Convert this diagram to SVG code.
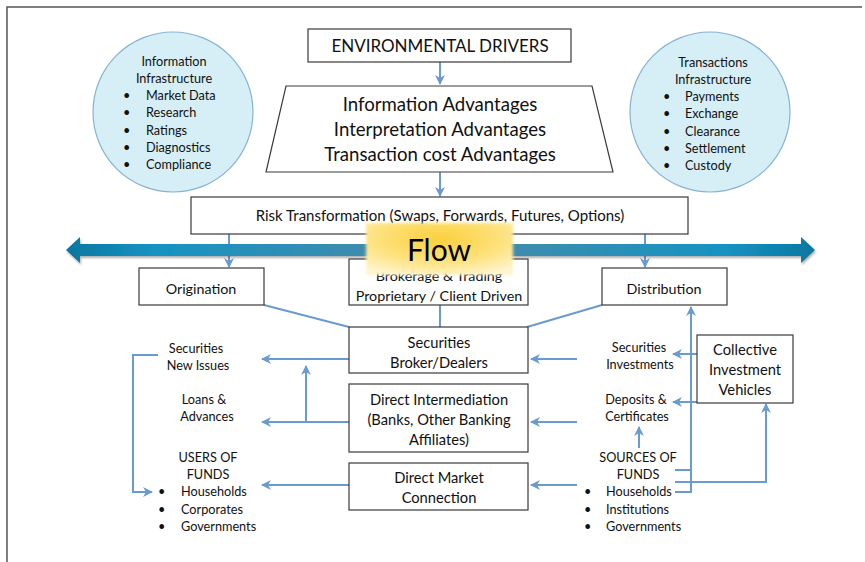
<svg xmlns="http://www.w3.org/2000/svg" width="865" height="562" viewBox="0 0 865 562">
  <style>
    text { font-family: Lato, "Open Sans", "Liberation Sans", sans-serif; fill: #111111; }
    .box { fill: #ffffff; stroke: #3a3a3a; stroke-width: 1.2; }
    .circ { fill: #d6eff6; stroke: #86b2d3; stroke-width: 1.2; }
    .c { text-anchor: middle; }
    .s125 { font-size: 12.7px; }
    .s14 { font-size: 14.3px; }
    .s145 { font-size: 14.7px; }
    .s18 { font-size: 17px; }
    .s19 { font-size: 18.6px; }
    .conn { fill: none; stroke: #6a9bd0; stroke-width: 2; }
    .arr { marker-end: url(#head); }
  </style>
  <defs>
    <marker id="head" viewBox="0 0 10 10" refX="9" refY="5" markerWidth="5" markerHeight="5" orient="auto" markerUnits="strokeWidth">
      <path d="M0,0 L10,5 L0,10 L3,5 Z" fill="#6a9bd0"/>
    </marker>
    <linearGradient id="flowGrad" x1="66" y1="0" x2="815" y2="0" gradientUnits="userSpaceOnUse">
      <stop offset="0" stop-color="#0a77a0"/>
      <stop offset="0.12" stop-color="#1693c2"/>
      <stop offset="0.4" stop-color="#3d8cae"/>
      <stop offset="0.6" stop-color="#3d8cae"/>
      <stop offset="0.88" stop-color="#1693c2"/>
      <stop offset="1" stop-color="#0a77a0"/>
    </linearGradient>
    <radialGradient id="labelGrad" cx="0.5" cy="0.3" r="0.75">
      <stop offset="0" stop-color="#fbd03c"/>
      <stop offset="0.6" stop-color="#fde27f"/>
      <stop offset="1" stop-color="#fff4cc"/>
    </radialGradient>
    <filter id="soft" x="-10%" y="-20%" width="120%" height="140%">
      <feGaussianBlur stdDeviation="1.4"/>
    </filter>
    <filter id="shadow" x="-5%" y="-30%" width="110%" height="160%">
      <feDropShadow dx="1" dy="2" stdDeviation="1.2" flood-color="#555" flood-opacity="0.45"/>
    </filter>
  </defs>

  <!-- frame -->
  <path d="M7,562 V7 H862" fill="none" stroke="#555" stroke-width="1.5"/>

  <!-- infrastructure circles -->
  <g id="info-infra">
    <circle class="circ" cx="173" cy="112" r="80"/>
    <text class="s125 c" x="174" y="66">Information</text>
    <text class="s125 c" x="174" y="83">Infrastructure</text>
    <g class="s125">
      <text x="123" y="100">•</text><text x="146" y="100">Market Data</text>
      <text x="123" y="117">•</text><text x="146" y="117">Research</text>
      <text x="123" y="135">•</text><text x="146" y="135">Ratings</text>
      <text x="123" y="152">•</text><text x="146" y="152">Diagnostics</text>
      <text x="123" y="169">•</text><text x="146" y="169">Compliance</text>
    </g>
  </g>
  <g id="trans-infra">
    <circle class="circ" cx="710" cy="112" r="80"/>
    <text class="s125 c" x="713" y="67">Transactions</text>
    <text class="s125 c" x="713" y="84">Infrastructure</text>
    <g class="s125">
      <text x="663" y="101">•</text><text x="685" y="101">Payments</text>
      <text x="663" y="118">•</text><text x="685" y="118">Exchange</text>
      <text x="663" y="136">•</text><text x="685" y="136">Clearance</text>
      <text x="663" y="153">•</text><text x="685" y="153">Settlement</text>
      <text x="663" y="170">•</text><text x="685" y="170">Custody</text>
    </g>
  </g>

  <!-- connectors -->
  <g id="connectors">
    <path class="conn arr" d="M440,62 V84"/>
    <path class="conn arr" d="M440,172 V196"/>
    <path class="conn arr" d="M229,234 V267"/>
    <path class="conn arr" d="M645,234 V267"/>
    <path class="conn" d="M264,305 L349,327"/>
    <path class="conn" d="M440,305 V327"/>
    <path class="conn" d="M602,305 L527,327"/>
    <!-- toward users of funds -->
    <path class="conn arr" d="M349,359 H262"/>
    <path class="conn arr" d="M349,422 H262"/>
    <path class="conn arr" d="M306,422 V366"/>
    <path class="conn arr" d="M349,485 H262"/>
    <path class="conn arr" d="M158,355 H133 V492 H152"/>
    <!-- from sources of funds -->
    <path class="conn arr" d="M577,359 H531"/>
    <path class="conn arr" d="M577,422 H531"/>
    <path class="conn arr" d="M577,485 H531"/>
    <path class="conn arr" d="M639,448 V427"/>
    <path class="conn arr" d="M697,354 H673"/>
    <path class="conn arr" d="M697,402 H673"/>
    <path class="conn arr" d="M675,492 H691 V307"/>
    <path class="conn" d="M675,470 H691"/>
    <path class="conn arr" d="M675,482 H766 V404"/>
  </g>

  <!-- flow arrow -->
  <g id="flow" filter="url(#shadow)">
    <path d="M66,250 L80,237 L80,244 L801,244 L801,237 L815,250 L801,263 L801,256 L80,256 L80,263 Z" fill="url(#flowGrad)"/>
  </g>

  <g id="env-drivers">
    <rect class="box" x="308" y="29" width="263" height="33"/>
    <text class="s18 c" x="440" y="52">ENVIRONMENTAL DRIVERS</text>
  </g>

  <g id="advantages">
    <path class="box" d="M286,86 H592 L613,172 H266 Z"/>
    <text class="s19 c" x="440" y="111">Information Advantages</text>
    <text class="s19 c" x="440" y="136">Interpretation Advantages</text>
    <text class="s19 c" x="440" y="161">Transaction cost Advantages</text>
  </g>

  <g id="risk">
    <rect class="box" x="191" y="197" width="497" height="37"/>
    <text class="c" x="440" y="221" style="font-size:15px">Risk Transformation (Swaps, Forwards, Futures, Options)</text>
  </g>

  <g id="origination">
    <rect class="box" x="139" y="268" width="125" height="37"/>
    <text class="s14 c" x="201" y="294">Origination</text>
  </g>

  <g id="brokerage">
    <rect class="box" x="349" y="259" width="179" height="46"/>
    <text class="s14 c" x="439" y="281">Brokerage &amp; Trading</text>
    <text class="s14 c" x="439" y="301">Proprietary / Client Driven</text>
  </g>

  <g id="distribution">
    <rect class="box" x="602" y="268" width="125" height="37"/>
    <text class="s14 c" x="664" y="294">Distribution</text>
  </g>

  <!-- flow label sits over the arrow and the brokerage box -->
  <g id="flow-label">
    <rect x="366" y="223" width="147" height="52" fill="url(#labelGrad)" filter="url(#soft)"/>
    <text class="c" x="439" y="261" style="font-size:30px; fill:#000">Flow</text>
  </g>

  <g id="broker-dealers">
    <rect class="box" x="349" y="327" width="179" height="46"/>
    <text class="s145 c" x="439" y="348">Securities</text>
    <text class="s145 c" x="439" y="368">Broker/Dealers</text>
  </g>

  <g id="direct-intermediation">
    <rect class="box" x="349" y="384" width="179" height="68"/>
    <text class="s145 c" x="439" y="405">Direct Intermediation</text>
    <text class="s145 c" x="439" y="425">(Banks, Other Banking</text>
    <text class="s145 c" x="439" y="445">Affiliates)</text>
  </g>

  <g id="direct-market">
    <rect class="box" x="349" y="463" width="179" height="47"/>
    <text class="s145 c" x="439" y="483">Direct Market</text>
    <text class="s145 c" x="439" y="503">Connection</text>
  </g>

  <g id="civ">
    <rect class="box" x="697" y="335" width="96" height="68"/>
    <text class="s145 c" x="745" y="355">Collective</text>
    <text class="s145 c" x="745" y="375">Investment</text>
    <text class="s145 c" x="745" y="395">Vehicles</text>
  </g>

  <!-- users of funds side -->
  <g id="new-issues">
    <text class="s125 c" x="196" y="353">Securities</text>
    <text class="s125 c" x="198" y="370">New Issues</text>
  </g>
  <g id="loans">
    <text class="s125 c" x="204" y="404">Loans &amp;</text>
    <text class="s125 c" x="207" y="421">Advances</text>
  </g>
  <g id="users">
    <text class="s125 c" x="208" y="462">USERS OF</text>
    <text class="s125 c" x="208" y="479">FUNDS</text>
    <g class="s125">
      <text x="158" y="496">•</text><text x="181" y="496">Households</text>
      <text x="158" y="514">•</text><text x="181" y="514">Corporates</text>
      <text x="158" y="531">•</text><text x="181" y="531">Governments</text>
    </g>
  </g>

  <!-- sources of funds side -->
  <g id="sec-investments">
    <text class="s125 c" x="639" y="352">Securities</text>
    <text class="s125 c" x="640" y="369">Investments</text>
  </g>
  <g id="deposits">
    <text class="s125 c" x="636" y="404">Deposits &amp;</text>
    <text class="s125 c" x="637" y="421">Certificates</text>
  </g>
  <g id="sources">
    <text class="s125 c" x="638" y="462">SOURCES OF</text>
    <text class="s125 c" x="638" y="479">FUNDS</text>
    <g class="s125">
      <text x="584" y="496">•</text><text x="606" y="496">Households</text>
      <text x="584" y="514">•</text><text x="606" y="514">Institutions</text>
      <text x="584" y="531">•</text><text x="606" y="531">Governments</text>
    </g>
  </g>
</svg>
